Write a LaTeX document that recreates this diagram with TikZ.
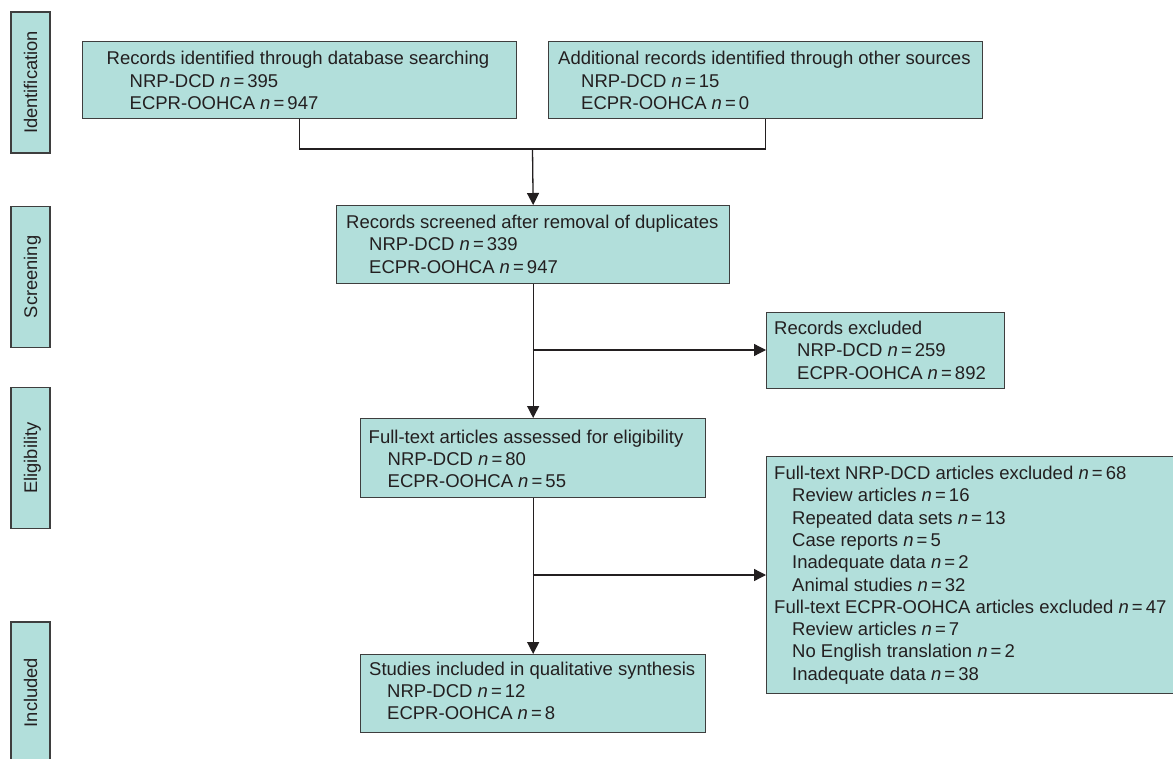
\documentclass[tikz,border=0pt]{standalone}
\usepackage{fontspec}
\setmainfont{Liberation Sans}
\usetikzlibrary{arrows.meta}
\definecolor{boxfill}{RGB}{178,223,219}
\definecolor{boxline}{RGB}{62,62,62}
\definecolor{ink}{RGB}{35,31,32}
\newcommand{\nval}[1]{\textit{n}\,=\,#1}
\begin{document}
\begin{tikzpicture}[x=1pt,y=-1pt,
  box/.style={draw=boxline, fill=boxfill, line width=1.3pt, inner sep=0pt, rectangle, anchor=north west},
  side/.style={draw=boxline, fill=boxfill, line width=1.3pt, inner sep=0pt, rectangle,
    minimum width=141pt, minimum height=39pt, rotate=90, text=ink,
    text height=13.3pt, text depth=0pt, font=\fontsize{18.3}{22}\selectfont},
  txt/.style={anchor=base west, inner sep=0pt, text=ink, font=\fontsize{18.5}{22.3}\selectfont},
  conn/.style={draw=ink, line width=1.3pt},
  arr/.style={conn, -{Triangle[length=12pt,width=12pt]}}]
\useasboundingbox (0,0) rectangle (1173,759);
\fill[white] (0,0) rectangle (1173,759);

% stage labels
\node[side] (s1) at (30.5,82.5) {Identification};
\node[side] (s2) at (30.5,277) {Screening};
\node[side] (s3) at (30.5,458) {Eligibility};
\node[side] (s4) at (30.5,692.5) {Included};

% boxes
\node[box, minimum width=434pt, minimum height=77pt] (b1) at (82,41) {};
\node[box, minimum width=434pt, minimum height=77pt] (b2) at (548,41) {};
\node[box, minimum width=393pt, minimum height=78pt] (b3) at (336,205) {};
\node[box, minimum width=238pt, minimum height=76pt] (b4) at (766,312) {};
\node[box, minimum width=345pt, minimum height=79pt] (b5) at (360,418) {};
\node[box, minimum width=420pt, minimum height=237pt] (b6) at (766,456) {};
\node[box, minimum width=345pt, minimum height=78pt] (b7) at (360,654) {};

% texts
\node[txt] (b1t) at (106.5,65) {\vtop{\hbox{Records identified through database searching}\hbox{\kern23pt NRP-DCD \nval{395}}\hbox{\kern23pt ECPR-OOHCA \nval{947}}}};
\node[txt] (b2t) at (558,65) {\vtop{\hbox{Additional records identified through other sources}\hbox{\kern23pt NRP-DCD \nval{15}}\hbox{\kern23pt ECPR-OOHCA \nval{0}}}};
\node[txt] (b3t) at (346,228.5) {\vtop{\hbox{Records screened after removal of duplicates}\hbox{\kern23pt NRP-DCD \nval{339}}\hbox{\kern23pt ECPR-OOHCA \nval{947}}}};
\node[txt] (b4t) at (774,334.5) {\vtop{\hbox{Records excluded}\hbox{\kern23pt NRP-DCD \nval{259}}\hbox{\kern23pt ECPR-OOHCA \nval{892}}}};
\node[txt] (b5t) at (368.5,443) {\vtop{\hbox{Full-text articles assessed for eligibility}\hbox{\kern19pt NRP-DCD \nval{80}}\hbox{\kern19pt ECPR-OOHCA \nval{55}}}};
\node[txt] (b6t) at (774,479.5) {\vtop{\hbox{Full-text NRP-DCD articles excluded \nval{68}}\hbox{\kern18pt Review articles \nval{16}}\hbox{\kern18pt Repeated data sets \nval{13}}\hbox{\kern18pt Case reports \nval{5}}\hbox{\kern18pt Inadequate data \nval{2}}\hbox{\kern18pt Animal studies \nval{32}}\hbox{Full-text ECPR-OOHCA articles excluded \nval{47}}\hbox{\kern18pt Review articles \nval{7}}\hbox{\kern18pt No English translation \nval{2}}\hbox{\kern18pt Inadequate data \nval{38}}}};
\node[txt] (b7t) at (369,675) {\vtop{\hbox{Studies included in qualitative synthesis}\hbox{\kern18pt NRP-DCD \nval{12}}\hbox{\kern18pt ECPR-OOHCA \nval{8}}}};

% connectors
\coordinate (j1) at (532.5,149);
\coordinate (j2) at (532.5,350);
\coordinate (j3) at (532.5,575);
\draw[conn] (b1.south) |- (j1) -| (b2.south);
\draw[arr] (j1) -- (b3.north);
\draw[arr] (b3.south) -- (b5.north);
\draw[arr] (j2) -- (j2 -| b4.west);
\draw[arr] (b5.south) -- (b7.north);
\draw[arr] (j3) -- (j3 -| b6.west);
\end{tikzpicture}
\end{document}
